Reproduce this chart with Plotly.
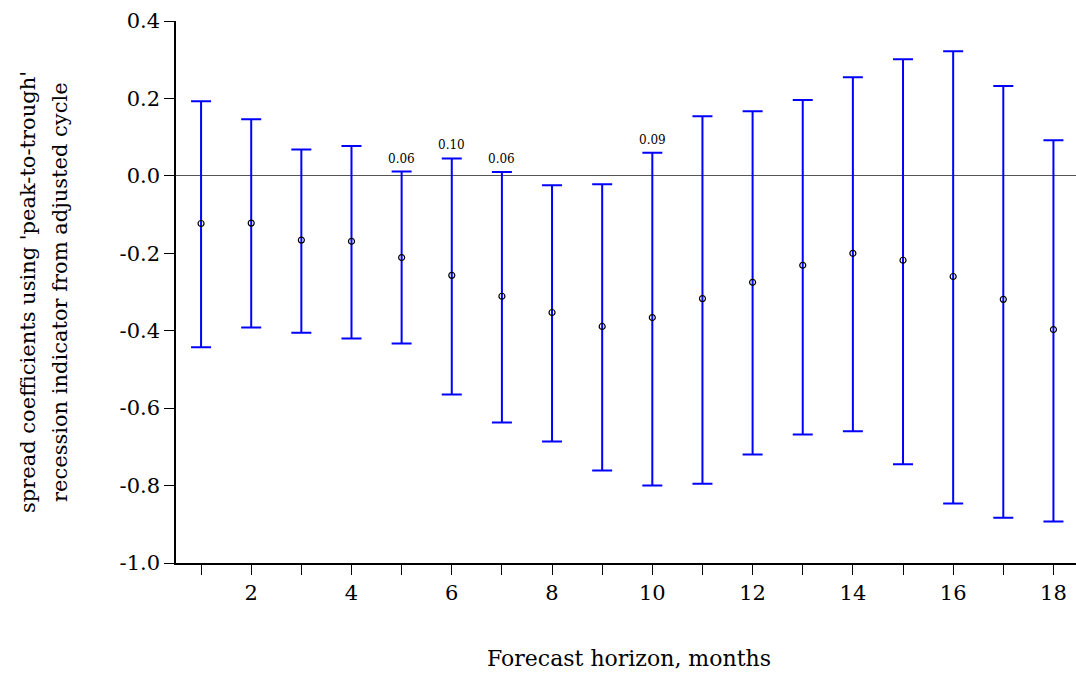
import plotly.graph_objects as go

horizon = list(range(1, 19))
coef = [-0.123, -0.122, -0.166, -0.169, -0.211, -0.257, -0.311, -0.353, -0.389,
        -0.366, -0.317, -0.275, -0.231, -0.200, -0.218, -0.260, -0.319, -0.397]
upper = [0.193, 0.146, 0.068, 0.077, 0.011, 0.045, 0.010, -0.024, -0.022,
         0.060, 0.154, 0.167, 0.196, 0.255, 0.301, 0.322, 0.232, 0.092]
lower = [-0.443, -0.392, -0.405, -0.420, -0.433, -0.565, -0.637, -0.686, -0.761,
         -0.800, -0.795, -0.720, -0.668, -0.660, -0.745, -0.846, -0.883, -0.893]
pval_x = [5, 6, 7, 10]
pval_text = ["0.06", "0.10", "0.06", "0.09"]

y_tickvals = [0.4, 0.2, 0.0, -0.2, -0.4, -0.6, -0.8, -1.0]
y_ticktext = ["0.4", "0.2", "0.0", "-0.2", "-0.4", "-0.6", "-0.8", "-1.0"]
x_ticktext = [str(h) if h % 2 == 0 else "" for h in horizon]
y_title_lines = ["spread coefficients using 'peak-to-trough'",
                 "recession indicator from adjusted cycle"]

FONT = "DejaVu Serif"

err_plus = [u - c for u, c in zip(upper, coef)]
err_minus = [c - l for c, l in zip(coef, lower)]

fig = go.Figure()
fig.add_trace(go.Scatter(
    x=horizon, y=coef, mode="markers",
    marker=dict(symbol="circle-open", size=6, color="black", line=dict(width=1.2, color="black")),
    error_y=dict(type="data", symmetric=False, array=err_plus, arrayminus=err_minus,
                 color="#0000FF", thickness=2, width=10),
    showlegend=False,
))

for px, t in zip(pval_x, pval_text):
    fig.add_annotation(x=px, y=upper[px - 1], text=t, showarrow=False,
                       yanchor="bottom", yshift=4,
                       font=dict(family=FONT, size=12, color="black"))

for xc, line in zip([28, 60], y_title_lines):
    fig.add_annotation(xref="paper", yref="paper", x=(xc - 176) / 900, y=0.5,
                       text=line, textangle=-90, showarrow=False,
                       xanchor="center", yanchor="middle",
                       font=dict(family=FONT, size=21, color="black"))

fig.add_annotation(xref="paper", yref="paper", x=(629 - 176) / 900, y=-(658 - 563) / 542,
                   text="Forecast horizon, months", showarrow=False,
                   xanchor="center", yanchor="middle",
                   font=dict(family=FONT, size=22, color="black"))

fig.update_layout(
    width=1076, height=675,
    margin=dict(l=176, r=0, t=21, b=112),
    plot_bgcolor="white", paper_bgcolor="white",
    font=dict(family=FONT, size=21, color="black"),
    xaxis=dict(range=[0.5, 18.45], tickvals=horizon, ticktext=x_ticktext,
               ticks="outside", ticklen=10, tickwidth=1.2, tickcolor="black",
               showline=True, linecolor="black", linewidth=1.5,
               showgrid=False, zeroline=False),
    yaxis=dict(range=[-1.0, 0.4], tickvals=y_tickvals, ticktext=y_ticktext,
               ticks="outside", ticklen=10, tickwidth=1.2, tickcolor="black",
               showline=True, linecolor="black", linewidth=1.5,
               showgrid=False, zeroline=True, zerolinecolor="#555555", zerolinewidth=1.2),
)

fig.write_html("out.html")
